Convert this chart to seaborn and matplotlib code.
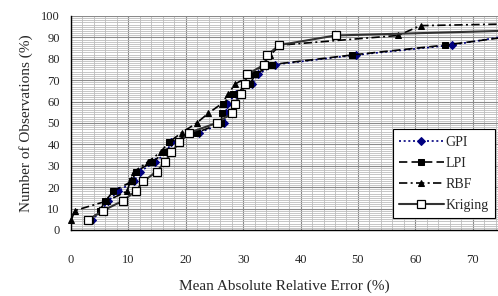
import seaborn as sns
import matplotlib.pyplot as plt
import pandas as pd
from matplotlib.ticker import MultipleLocator

# share of observations (%), one step per observation
obs_pct = [4.5, 9.1, 13.6, 18.2, 22.7, 27.3, 31.8, 36.4, 40.9, 45.5, 50.0,
           54.5, 59.1, 63.6, 68.2, 72.7, 77.3, 81.8, 86.4, 90.9, 95.5, 100.0]

# mean absolute relative error (%) per method
gpi_err = [3.6, 5.3, 6.5, 8.2, 11.0, 12.0, 14.7, 16.7, 17.4, 22.3, 26.7,
           27.0, 27.2, 28.8, 31.6, 32.5, 35.6, 49.7, 66.3, 76.5, 90.0, 120.0]
lpi_err = [3.3, 5.0, 6.0, 7.4, 10.6, 11.3, 14.2, 16.4, 17.0, 21.9, 26.2,
           26.3, 26.5, 28.3, 31.2, 32.1, 35.0, 49.0, 65.2, 78.0, 95.0, 125.0]
rbf_err = [0.0, 0.7, 6.3, 9.8, 10.3, 11.0, 13.4, 15.6, 17.0, 19.3, 21.9,
           23.9, 26.3, 27.4, 28.6, 31.5, 33.5, 34.7, 36.5, 57.0, 60.9, 150.0]
krig_err = [2.9, 5.6, 9.0, 11.3, 12.6, 14.9, 16.4, 17.5, 18.9, 20.6, 25.4,
            28.0, 28.5, 29.7, 30.3, 30.7, 33.7, 34.2, 36.3, 46.1, 108.0, 160.0]

methods = ["GPI", "LPI", "RBF", "Kriging"]
errors = [gpi_err, lpi_err, rbf_err, krig_err]

rows = []
for m, errs in zip(methods, errors):
    for e, p in zip(errs, obs_pct):
        rows.append({"method": m, "err": e, "obs": p})
df = pd.DataFrame(rows)

sns.set_style("white")
plt.rcParams["font.family"] = ["Liberation Serif", "DejaVu Serif"]

fig = plt.figure(figsize=(4.98, 2.96), dpi=100)
ax = fig.add_axes([71 / 498, 1 - 230 / 296, 1 - 71 / 498, 214 / 296])

styles = {
    "GPI": dict(color="#000080", linestyle=(0, (1.2, 1.6)), marker="D",
                markersize=4, markerfacecolor="#000080", markeredgecolor="#000080", lw=1.2),
    "LPI": dict(color="black", linestyle=(0, (5, 2.5)), marker="s",
                markersize=5, markerfacecolor="black", markeredgecolor="black", lw=1.2),
    "RBF": dict(color="black", linestyle=(0, (5, 2, 1.2, 2)), marker="^",
                markersize=4, markerfacecolor="black", markeredgecolor="black", lw=1.2,
                clip_on=False),
    "Kriging": dict(color="#333333", linestyle="-", marker="s",
                    markersize=5.5, markerfacecolor="white", markeredgecolor="black",
                    markeredgewidth=0.9, lw=1.5),
}

for m in methods:
    sub = df[df["method"] == m]
    sns.lineplot(data=sub, x="err", y="obs", ax=ax, sort=False, label=m,
                 estimator=None, **styles[m])

ax.set_xlim(0, 74.4)
ax.set_ylim(0, 100)
ax.xaxis.set_major_locator(MultipleLocator(10))
ax.xaxis.set_minor_locator(MultipleLocator(2))
ax.yaxis.set_major_locator(MultipleLocator(10))
ax.yaxis.set_minor_locator(MultipleLocator(1))
ax.grid(which="minor", color="#bdbdbd", lw=0.6)
ax.grid(which="major", color="#8a8a8a", lw=0.8)
ax.set_axisbelow(True)

for s in ["top", "right"]:
    ax.spines[s].set_visible(False)
for s in ["left", "bottom"]:
    ax.spines[s].set_color("black")
    ax.spines[s].set_linewidth(1.0)

ax.tick_params(axis="both", which="major", direction="out", length=5, width=0.8,
               color="black", labelsize=9)
ax.tick_params(axis="x", which="major", pad=12)
ax.tick_params(axis="y", which="major", pad=3)
ax.tick_params(which="minor", length=0)

ax.set_xlabel("Mean Absolute Relative Error (%)", fontsize=11, labelpad=10)
ax.set_ylabel("Number of Observations (%)", fontsize=11, labelpad=6)

leg = ax.legend(loc="lower right", bbox_to_anchor=(0.993, 0.056), borderaxespad=0,
                fontsize=10, frameon=True, fancybox=False, edgecolor="black",
                framealpha=1, handlelength=3.2, labelspacing=0.58, borderpad=0.45,
                handletextpad=0.15)
leg.get_frame().set_linewidth(0.8)

fig.savefig("out.png", dpi=100)
